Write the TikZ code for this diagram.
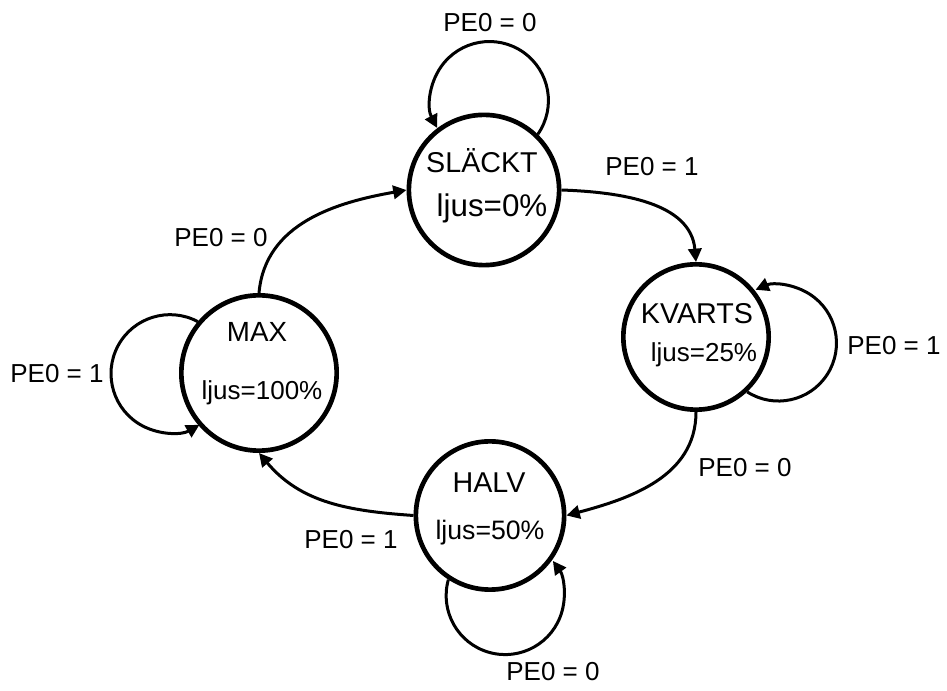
\documentclass[tikz,border=0pt]{standalone}
\usepackage{fontspec}
\setmainfont{Liberation Sans}
\usetikzlibrary{arrows.meta}
\tikzset{
  state/.style={circle, draw=black, line width=3.5pt, inner sep=0pt},
  edge/.style={line width=2.25pt, -{Triangle[length=10pt,width=10pt]}},
  lbl/.style={inner sep=0pt, font=\fontsize{19.5}{22}\selectfont},
  sname/.style={inner sep=0pt, font=\fontsize{21.5}{24}\selectfont},
  ljus/.style={inner sep=0pt, font=\fontsize{19.5}{22}\selectfont}
}
\begin{document}
\begin{tikzpicture}[x=0.75pt,y=0.75pt]
\useasboundingbox (0,0) rectangle (947,-691);
% states
\node[state, minimum size=112.7pt] (s) at (484,-190) {};
\node[state, minimum size=116.5pt] (m) at (259,-373) {};
\node[state, minimum size=109pt] (k) at (696,-337) {};
\node[state, minimum size=111.2pt] (h) at (490,-515.5) {};
% state texts
\node[sname] (st) at (482,-161) {SLÄCKT};
\node[ljus, font=\fontsize{23.5}{26}\selectfont] (sl) at (492,-208) {ljus=0\%};
\node[sname, font=\fontsize{20.8}{24}\selectfont] (mt) at (257,-332) {MAX};
\node[ljus] (ml) at (262,-393) {ljus=100\%};
\node[sname] (kt) at (697,-314) {KVARTS};
\node[ljus] (kl) at (704,-355) {ljus=25\%};
\node[sname] (ht) at (489,-483) {HALV};
\node[ljus, font=\fontsize{20}{23}\selectfont] (hl) at (490,-533) {ljus=50\%};
% transitions
\draw[edge] (s.east) to[out=-2,in=95] (k.north);
\draw[edge] (k.south) to[out=-90,in=15] (h.east);
\draw[edge] (h.west) to[out=176,in=-50] (m.south);
\draw[edge] (m.north) to[out=85,in=190] (s.west);
% self loops
\draw[edge] (s.46) arc[start angle=-34.9, end angle=207.7, radius=59];
\draw[edge] (k.-47) arc[start angle=-122.7, end angle=113.3, radius=58];
\draw[edge] (m.140) arc[start angle=62, end angle=300, radius=59];
\draw[edge] (h.-123.7) arc[start angle=164.3, end angle=396, radius=59];
% labels
\node[lbl] (l1) at (490,-23) {PE0 = 0};
\node[lbl] (l2) at (652,-167) {PE0 = 1};
\node[lbl] (l3) at (221,-238) {PE0 = 0};
\node[lbl] (l4) at (57,-374) {PE0 = 1};
\node[lbl] (l5) at (894,-346) {PE0 = 1};
\node[lbl] (l6) at (745,-468) {PE0 = 0};
\node[lbl] (l7) at (351,-540) {PE0 = 1};
\node[lbl] (l8) at (553,-672) {PE0 = 0};
\end{tikzpicture}
\end{document}
